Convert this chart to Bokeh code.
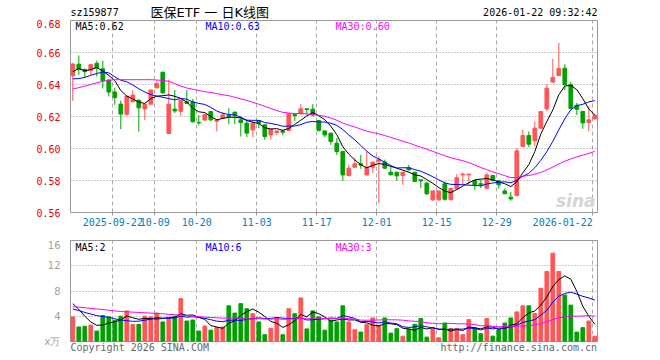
import numpy as np
import pandas as pd
from bokeh.plotting import figure
from bokeh.models import FixedTicker, Label, Range1d, NumeralTickFormatter, ColumnDataSource
from bokeh.layouts import column
from bokeh.embed import file_html
from bokeh.resources import INLINE
from bokeh.core.properties import value

# ---------------- data ----------------
dates = [
    "2025-09-11", "2025-09-12", "2025-09-15", "2025-09-16", "2025-09-17", "2025-09-18", "2025-09-19",
    "2025-09-22", "2025-09-23", "2025-09-24", "2025-09-25", "2025-09-26", "2025-09-29", "2025-09-30",
    "2025-10-09", "2025-10-10", "2025-10-13", "2025-10-14", "2025-10-15", "2025-10-16", "2025-10-17",
    "2025-10-20", "2025-10-21", "2025-10-22", "2025-10-23", "2025-10-24", "2025-10-27", "2025-10-28",
    "2025-10-29", "2025-10-30", "2025-10-31",
    "2025-11-03", "2025-11-04", "2025-11-05", "2025-11-06", "2025-11-07", "2025-11-10", "2025-11-11",
    "2025-11-12", "2025-11-13", "2025-11-14", "2025-11-17", "2025-11-18", "2025-11-19", "2025-11-20",
    "2025-11-21", "2025-11-24", "2025-11-25", "2025-11-26", "2025-11-27", "2025-11-28",
    "2025-12-01", "2025-12-02", "2025-12-03", "2025-12-04", "2025-12-05", "2025-12-08", "2025-12-09",
    "2025-12-10", "2025-12-11", "2025-12-12", "2025-12-15", "2025-12-16", "2025-12-17", "2025-12-18",
    "2025-12-19", "2025-12-22", "2025-12-23", "2025-12-24", "2025-12-25", "2025-12-26", "2025-12-29",
    "2025-12-30", "2025-12-31",
    "2026-01-05", "2026-01-06", "2026-01-07", "2026-01-08", "2026-01-09", "2026-01-12", "2026-01-13",
    "2026-01-14", "2026-01-15", "2026-01-16", "2026-01-19", "2026-01-20", "2026-01-21", "2026-01-22",
]

open_ = [0.6455, 0.6527, 0.6494, 0.6488, 0.6532, 0.6498, 0.6428, 0.6353, 0.6277, 0.6214,
         0.6292, 0.6302, 0.6247, 0.6277, 0.6379, 0.6477, 0.6094, 0.6246, 0.6233, 0.6292,
         0.6291, 0.6163, 0.6178, 0.6231, 0.6170, 0.6190, 0.6206, 0.6227, 0.6179, 0.6158,
         0.6117, 0.6175, 0.6148, 0.6085, 0.6100, 0.6110, 0.6113, 0.6212, 0.6217, 0.6248,
         0.6246, 0.6175, 0.6110, 0.6096, 0.6033, 0.5981, 0.5831, 0.5883, 0.5904, 0.5835,
         0.5883, 0.5920, 0.5915, 0.5852, 0.5852, 0.5831, 0.5881, 0.5852, 0.5804, 0.5783,
         0.5679, 0.5679, 0.5779, 0.5681, 0.5748, 0.5835, 0.5835, 0.5798, 0.5780, 0.5752,
         0.5831, 0.5798, 0.5735, 0.5696, 0.5706, 0.6013, 0.6081, 0.6048, 0.6127, 0.6248,
         0.6415, 0.6456, 0.6502, 0.6398, 0.6270, 0.6232, 0.6163, 0.6185]
high = [0.6535, 0.6581, 0.6500, 0.6528, 0.6548, 0.6548, 0.6430, 0.6380, 0.6300, 0.6328,
        0.6365, 0.6304, 0.6277, 0.6366, 0.6425, 0.6479, 0.6430, 0.6366, 0.6303, 0.6365,
        0.6310, 0.6208, 0.6213, 0.6233, 0.6180, 0.6227, 0.6252, 0.6230, 0.6200, 0.6180,
        0.6169, 0.6177, 0.6150, 0.6121, 0.6110, 0.6117, 0.6219, 0.6212, 0.6277, 0.6248,
        0.6277, 0.6177, 0.6110, 0.6098, 0.6065, 0.5981, 0.5900, 0.5940, 0.5960, 0.5981,
        0.5915, 0.5950, 0.5930, 0.5887, 0.5852, 0.5852, 0.5898, 0.5852, 0.5804, 0.5794,
        0.5735, 0.5735, 0.5794, 0.5750, 0.5840, 0.5850, 0.5840, 0.5804, 0.5804, 0.5850,
        0.5831, 0.5800, 0.5750, 0.5727, 0.6002, 0.6117, 0.6106, 0.6169, 0.6231, 0.6402,
        0.6560, 0.6660, 0.6527, 0.6415, 0.6285, 0.6232, 0.6264, 0.6215]
low = [0.6298, 0.6460, 0.6442, 0.6460, 0.6450, 0.6375, 0.6325, 0.6273, 0.6121, 0.6202,
       0.6290, 0.6105, 0.6178, 0.6275, 0.6377, 0.6342, 0.6090, 0.6222, 0.6203, 0.6277,
       0.6162, 0.6144, 0.6172, 0.6170, 0.6106, 0.6186, 0.6152, 0.6152, 0.6075, 0.6071,
       0.6071, 0.6127, 0.6054, 0.6056, 0.6083, 0.6083, 0.6108, 0.6172, 0.6212, 0.6212,
       0.6200, 0.6106, 0.6071, 0.6023, 0.5960, 0.5798, 0.5825, 0.5883, 0.5873, 0.5831,
       0.5846, 0.5658, 0.5873, 0.5835, 0.5798, 0.5773, 0.5860, 0.5790, 0.5752, 0.5710,
       0.5673, 0.5673, 0.5673, 0.5673, 0.5744, 0.5773, 0.5775, 0.5742, 0.5752, 0.5748,
       0.5794, 0.5748, 0.5717, 0.5673, 0.5700, 0.6008, 0.6008, 0.6013, 0.6123, 0.6235,
       0.6415, 0.6456, 0.6366, 0.6248, 0.6210, 0.6123, 0.6108, 0.6180]
close = [0.6528, 0.6496, 0.6480, 0.6524, 0.6503, 0.6423, 0.6353, 0.6318, 0.6215, 0.6328,
         0.6334, 0.6254, 0.6277, 0.6366, 0.6405, 0.6348, 0.6277, 0.6235, 0.6302, 0.6282,
         0.6167, 0.6160, 0.6212, 0.6179, 0.6178, 0.6210, 0.6200, 0.6206, 0.6162, 0.6096,
         0.6158, 0.6158, 0.6075, 0.6121, 0.6110, 0.6102, 0.6217, 0.6206, 0.6248, 0.6244,
         0.6210, 0.6113, 0.6085, 0.6044, 0.5981, 0.5835, 0.5877, 0.5904, 0.5896, 0.5883,
         0.5915, 0.5930, 0.5877, 0.5835, 0.5829, 0.5852, 0.5867, 0.5794, 0.5798, 0.5717,
         0.5735, 0.5735, 0.5683, 0.5750, 0.5817, 0.5840, 0.5840, 0.5773, 0.5773, 0.5835,
         0.5800, 0.5773, 0.5717, 0.5685, 0.5985, 0.6081, 0.6027, 0.6127, 0.6231, 0.6377,
         0.6444, 0.6500, 0.6400, 0.6250, 0.6245, 0.6160, 0.6179, 0.6208]
volume = [3.90, 2.30, 2.40, 2.60, 1.65, 4.10, 3.90, 3.35, 4.00, 4.85,
          2.70, 2.70, 4.00, 3.90, 4.50, 3.10, 3.60, 4.00, 6.80, 3.25,
          3.40, 1.65, 2.45, 1.80, 2.20, 2.30, 5.65, 4.50, 6.00, 5.20,
          4.40, 3.10, 1.07, 2.10, 3.80, 1.07, 5.20, 4.40, 6.90, 2.00,
          4.85, 3.90, 1.80, 3.40, 3.10, 5.65, 3.10, 1.87, 1.50, 2.67,
          3.73, 2.56, 3.73, 1.33, 2.03, 0.85, 1.97, 2.72, 3.63, 0.69,
          2.03, 0.59, 2.93, 2.03, 2.03, 1.07, 3.47, 2.19, 1.23, 3.63,
          0.85, 1.87, 2.93, 3.73, 4.69, 5.65, 5.65, 4.43, 8.43, 11.10,
          14.00, 11.10, 7.36, 5.76, 1.49, 2.19, 3.25, 0.85]

# moving-average values for the first days (their window starts before the chart)
ma5_head = [0.6480, 0.6500, 0.6485, 0.6494]
ma10_head = [0.6435, 0.6437, 0.6444, 0.6458, 0.6469, 0.6477, 0.6473, 0.6448, 0.6427]
ma30_head = [0.6372, 0.6380, 0.6390, 0.6400, 0.6410, 0.6420, 0.6426, 0.6430, 0.6430, 0.6430,
             0.6430, 0.6430, 0.6430, 0.6430, 0.6428, 0.6425, 0.6420, 0.6405, 0.6390, 0.6378,
             0.6370, 0.6363, 0.6355, 0.6350, 0.6343, 0.6336, 0.6330, 0.6320, 0.6310]
vma5_head = [6.0, 5.1, 4.0, 3.1]
vma10_head = [5.15, 4.9, 4.6, 4.35, 4.1, 3.95, 3.85, 3.6, 3.4]
vma30_head = [5.5, 5.45, 5.35, 5.25, 5.15, 5.05, 4.95, 4.85, 4.75, 4.7,
              4.65, 4.6, 4.55, 4.5, 4.45, 4.4, 4.3, 4.25, 4.2, 4.1,
              4.0, 3.95, 3.85, 3.8, 3.75, 3.7, 3.7, 3.7, 3.7]

tick_dates = ["2025-09-22", "2025-10-09", "2025-10-20", "2025-11-03", "2025-11-17",
              "2025-12-01", "2025-12-15", "2025-12-29", "2026-01-22"]
tick_labels = ["2025-09-22", "10-09", "10-20", "11-03", "11-17", "12-01", "12-15", "12-29", "2026-01-22"]
price_ticks = [0.56, 0.58, 0.60, 0.62, 0.64, 0.66, 0.68]
vol_ticks = [0, 4, 8, 12, 16]
vol_tick_labels = ["x万", "4", "8", "12", "16"]

code = "sz159877"
title_text = "医保ETF 一 日K线图"
stamp = "2026-01-22 09:32:42"
ma_price_labels = ["MA5:0.62", "MA10:0.63", "MA30:0.60"]
ma_vol_labels = ["MA5:2", "MA10:6", "MA30:3"]
footer_left = "Copyright 2026 SINA.COM"
footer_right = "http://finance.sina.com.cn"


def moving(vals, n, head):
    s = pd.Series(vals, dtype=float).rolling(n).mean().to_numpy()
    s[:len(head)] = head
    return s


# ---------------- styling ----------------
RED = "#ff5555"
GREEN = "#00a000"
MA_COLORS = ["black", "#0000ff", "#ff00ff"]
MONO = "DejaVu Sans Mono"
CHAR_W = 6.02          # width of one 10px mono character
OFF = 1.0 / 3.0        # candle centre sits a little right of the date gridline
W = 656
LEFT, RIGHT = 70, 59
FRAME_W = W - LEFT - RIGHT

n = len(close)
idx = np.arange(n)
xc = idx + OFF
up = np.array(close) >= np.array(open_)
colors = [RED if u else GREEN for u in up]
src = ColumnDataSource(dict(
    x=xc, o=open_, h=high, l=low, c=close, v=volume,
    top=np.maximum(open_, close), bot=np.minimum(open_, close), color=colors,
    ma5=moving(close, 5, ma5_head), ma10=moving(close, 10, ma10_head), ma30=moving(close, 30, ma30_head),
    vma5=moving(volume, 5, vma5_head), vma10=moving(volume, 10, vma10_head), vma30=moving(volume, 30, vma30_head),
))

tick_pos = [dates.index(d) for d in tick_dates]
X0, X1 = -0.05, 87.78
xr = Range1d(X0, X1)
unit_px = FRAME_W / (X1 - X0)


def strip(height, x_range=None):
    f = figure(width=W, height=height, title=None, output_backend="svg", toolbar_location=None,
               x_range=x_range if x_range is not None else Range1d(0, FRAME_W),
               y_range=Range1d(0, height),
               min_border_left=LEFT, min_border_right=RIGHT, min_border_top=0, min_border_bottom=0)
    f.axis.visible = False
    f.grid.visible = False
    f.outline_line_color = None
    f.border_fill_color = "white"
    f.background_fill_color = "white"
    return f


def lab(p, text, x, y, color="black", size="10px", font=MONO, align="left", style="normal"):
    p.add_layout(Label(x=x, y=y, x_units="screen", y_units="screen", text=text, text_color=color,
                       text_font=font, text_font_size=size, text_align=align,
                       text_baseline="middle", text_font_style=style))


# ---- header strip (screen rows 0..19); x measured from the frame's left edge (screen x 70)
p0 = strip(19)
lab(p0, code, 0, 7)
lab(p0, title_text, 80, 7.5, size="13px", font="DejaVu Sans, Noto Sans CJK SC")
lab(p0, stamp, FRAME_W, 7, align="right")

# ---- price panel (frame rows 20..212)
p1 = figure(width=W, height=198, title=None, output_backend="svg", toolbar_location=None,
            x_range=xr, y_range=Range1d(price_ticks[0], price_ticks[-1]),
            min_border_left=LEFT, min_border_right=RIGHT, min_border_top=1, min_border_bottom=5)
# ---- volume panel (frame rows 240..341)
p2 = figure(width=W, height=117, title=None, output_backend="svg", toolbar_location=None,
            x_range=xr, y_range=Range1d(vol_ticks[0], vol_ticks[-1]),
            min_border_left=LEFT, min_border_right=RIGHT, min_border_top=1, min_border_bottom=15)

for p in (p1, p2):
    p.outline_line_color = "#999999"
    p.outline_line_width = 1
    p.background_fill_color = "white"
    p.border_fill_color = "white"
    p.xgrid.ticker = FixedTicker(ticks=tick_pos)
    p.xgrid.grid_line_color = "#aaaaaa"
    p.xgrid.grid_line_dash = "4 3"
    p.ygrid.grid_line_color = "#999999"
    p.ygrid.grid_line_dash = "1 2"
    p.yaxis.axis_line_color = None
    p.yaxis.major_tick_line_color = None
    p.yaxis.minor_tick_line_color = None
    p.yaxis.major_label_standoff = 4
    p.yaxis.major_label_text_font_size = "10px"

# price panel: bottom axis only carries the small date tick marks
p1.xaxis.ticker = FixedTicker(ticks=tick_pos)
p1.xaxis.major_label_overrides = {t: "" for t in tick_pos}
p1.xaxis.major_label_text_font_size = "0px"
p1.xaxis.major_label_standoff = 0
p1.xaxis.axis_line_color = None
p1.xaxis.major_tick_line_color = "#999999"
p1.xaxis.major_tick_out = 3
p1.xaxis.major_tick_in = 0
p1.xaxis.minor_tick_line_color = None
p1.yaxis.ticker = FixedTicker(ticks=price_ticks)
p1.ygrid.ticker = FixedTicker(ticks=price_ticks)
p1.yaxis.formatter = NumeralTickFormatter(format="0.00")
p1.yaxis.major_label_text_color = "#ee0000"
p1.yaxis.major_label_text_font = MONO

p2.yaxis.ticker = FixedTicker(ticks=vol_ticks)
p2.ygrid.ticker = FixedTicker(ticks=vol_ticks[1:])
p2.yaxis.major_label_overrides = {t: s for t, s in zip(vol_ticks, vol_tick_labels)}
p2.yaxis.major_label_text_color = "#a0a0a0"
p2.yaxis.major_label_text_font = "DejaVu Sans"

# footer texts carried by the volume panel's bottom axis (centred on their own text width)
foot_left_x = X0 + (len(footer_left) * CHAR_W / 2) / unit_px
foot_right_x = X1 - (len(footer_right) * CHAR_W / 2 + 0.5) / unit_px
p2.xaxis.ticker = FixedTicker(ticks=[foot_left_x, foot_right_x])
p2.xaxis.major_label_overrides = {foot_left_x: footer_left, foot_right_x: footer_right}
p2.xaxis.axis_line_color = None
p2.xaxis.major_tick_line_color = None
p2.xaxis.minor_tick_line_color = None
p2.xaxis.major_tick_out = 0
p2.xaxis.major_tick_in = 0
p2.xaxis.major_label_standoff = 0
p2.xaxis.major_label_text_font = MONO
p2.xaxis.major_label_text_font_size = "10px"
p2.xaxis.major_label_text_color = "#666666"

# candles
p1.segment(x0="x", x1="x", y0="l", y1="h", color="color", line_width=1, source=src)
p1.vbar(x="x", width=0.62, top="top", bottom="bot", fill_color="color", line_color="color",
        line_width=1, source=src)
for key, col in zip(["ma5", "ma10", "ma30"], MA_COLORS):
    p1.line("x", key, color=col, line_width=1, source=src)
for txt, xx, col in zip(ma_price_labels, [5, 135, 265], MA_COLORS):
    lab(p1, txt, xx, 186, color=col)
lab(p1, "sina", FRAME_W - 2, 12, color="#d4d4d4", size="17px", font="DejaVu Sans", align="right",
    style="bold italic")

# volume
p2.vbar(x="x", width=0.62, top="v", bottom=0, fill_color="color", line_color="color",
        line_width=1, source=src)
for key, col in zip(["vma5", "vma10", "vma30"], MA_COLORS):
    p2.line("x", key, color=col, line_width=1, source=src)
for txt, xx, col in zip(ma_vol_labels, [5, 135, 265], MA_COLORS):
    lab(p2, txt, xx, 94.5, color=col)

# ---- date strip between the panels (screen rows 217..239)
px = strip(22, x_range=xr)
px.text(x=tick_pos[:-1], y=18, text=tick_labels[:-1], text_align="center", text_baseline="middle",
        text_font=value(MONO), text_font_size="10px", text_color="#0080c0")
px.text(x=tick_pos[-1:], y=18, text=tick_labels[-1:], text_align="right", text_baseline="middle",
        text_font=value(MONO), text_font_size="10px", text_color="#0080c0")

layout = column(p0, p1, px, p2)
open("out.html", "w").write(file_html(layout, INLINE))
